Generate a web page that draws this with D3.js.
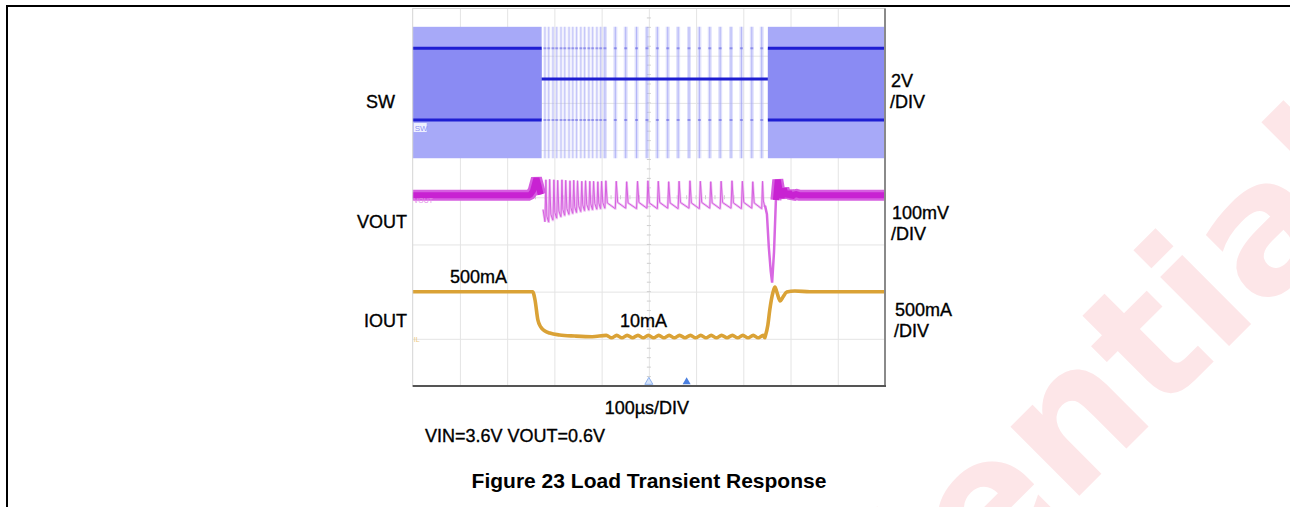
<!DOCTYPE html>
<html><head><meta charset="utf-8">
<script src="https://cdn.jsdelivr.net/npm/d3@7"></script>
<style>
html,body{margin:0;padding:0;background:#fff;}
svg{display:block;}
text{font-family:"Liberation Sans",Arial,Helvetica,sans-serif;}
</style></head><body>
<svg id="c" width="1290" height="507"></svg>
<script>
// ---------------- data ----------------
const timeDomain = [-500, 500];          // µs (10 div x 100 µs)
const divDomain = [-4, 4];               // 8 vertical divisions
const channelNames = ["SW", "VOUT", "IOUT"];
const channelScaleText = [["2V", "/DIV"], ["100mV", "/DIV"], ["500mA", "/DIV"]];
const channelUnitsPerDiv = [2, 100, 500]; // V, mV, mA
const channelZeroDiv = [1.467, 0.04, -2.983];
const levelLabels = ["500mA", "10mA"];
const levelLabelT = [-421, -61];
const timebaseLabel = "100µs/DIV";
const conditionLabel = "VIN=3.6V VOUT=0.6V";
const figureTitle = "Figure 23 Load Transient Response";
const watermarkText = "Confidential";

// SW node (V)
const swHeavySpans = [[-500, -227], [252, 500]];
const swEnvelopeV = [-1.28, 4.29];
const swHeavyLevelsV = [0.34, 3.38];
const swLightLevelV = 2.08;

// burst pulses during the 10 mA load (µs) and VOUT ripple (mV)
const burstT = [-220, -212, -203, -195, -186, -178, -169, -161, -153, -144, -136, -127, -119, -110, -102,
  -93, -71, -49, -26, -4, 18, 40, 62, 85, 107, 129, 151, 174, 196, 218, 239];
const burstPeakMv = [33, 34, 33, 32, 33, 32, 31, 32, 31, 30, 31, 30, 30, 29, 30,
  31, 30, 29, 30, 31, 30, 29, 30, 31, 30, 29, 30, 31, 30, 29, 30];
const burstTroughMv = [-56, -52, -48, -45, -42, -40, -38, -36, -34, -32, -31, -30, -29, -28, -27,
  -28, -27, -28, -27, -28, -27, -28, -27, -28, -27, -28, -27, -28, -27, -28, -24];

// VOUT around the load steps (mV)
const voutDownT = [-500, -252, -245, -238, -234, -229, -224];
const voutDownMv = [0, 0, 10, 36, 22, 2, -30];
const voutUpT = [246, 250, 254, 258, 261, 265, 269, 273, 277, 281, 286, 291, 297, 303, 310, 320, 500];
const voutUpMv = [-22, -40, -110, -160, -185, -120, -10, 33, 10, -5, 14, -2, 7, -3, 3, 0, 0];

// IOUT (mA)
const ioutDownT = [-500, -246, -241, -235, -229, -220, -210, -189, -157, -120];
const ioutDownMa = [490, 490, 403, 191, 117, 74, 53, 32, 21, 14];
const ioutRippleMa = [28, 2];
const ioutUpT = [246, 252, 256, 263, 267, 271, 278, 284, 292, 309, 341, 500];
const ioutUpMa = [10, 138, 297, 487, 540, 487, 392, 434, 487, 498, 490, 490];

// ---------------- layout ----------------
const svg = d3.select("#c");
const P = {l: 412.7, r: 885, t: 8.5, b: 386};
const x = d3.scaleLinear().domain(timeDomain).range([P.l, P.r]);
const y = d3.scaleLinear().domain(divDomain).range([P.b, P.t]);
const yc = (ch, v) => y(channelZeroDiv[ch] + v / channelUnitsPerDiv[ch]);

// watermark
const wm = svg.append("g").attr("transform", "translate(1068.7,506.3) rotate(-45)");
const wmt = wm.append("text").text(watermarkText)
  .style("font-family", "'DejaVu Sans', Verdana, sans-serif")
  .attr("font-size", 178).attr("font-weight", "bold").attr("fill", "#fde6e8");
const off = wmt.node().getStartPositionOfChar(7).x;
wmt.attr("x", -off);

// outer page frame
svg.append("line").attr("x1", 6).attr("x2", 1290).attr("y1", 6).attr("y2", 6).attr("stroke", "#000").attr("stroke-width", 2);
svg.append("line").attr("x1", 7).attr("x2", 7).attr("y1", 5).attr("y2", 507).attr("stroke", "#000").attr("stroke-width", 2);

// scope screen
const scr = svg.append("g");
scr.append("rect").attr("x", P.l).attr("y", P.t).attr("width", P.r - P.l).attr("height", P.b - P.t).attr("fill", "#fff");
const gx = scr.append("g").attr("transform", `translate(0,${P.b})`)
  .call(d3.axisBottom(x).tickValues(d3.range(-400, 500, 100)).tickSize(-(P.b - P.t)).tickFormat(""));
const gy = scr.append("g").attr("transform", `translate(${P.l},0)`)
  .call(d3.axisLeft(y).tickValues(d3.range(-3, 4, 1)).tickSize(-(P.r - P.l)).tickFormat(""));
[gx, gy].forEach(g => { g.select(".domain").remove(); g.selectAll("line").attr("stroke", "#e4e4e4").attr("stroke-width", 1); });
// minor ticks on centre lines
const minorX = d3.range(-500, 500.1, 20), minorY = d3.range(-4, 4.01, 0.2);
scr.selectAll(".mx").data(minorX).join("line").attr("x1", d => x(d)).attr("x2", d => x(d))
  .attr("y1", y(0) - 2).attr("y2", y(0) + 2).attr("stroke", "#cfcfcf");
scr.selectAll(".my").data(minorY).join("line").attr("y1", d => y(d)).attr("y2", d => y(d))
  .attr("x1", x(0) - 2).attr("x2", x(0) + 2).attr("stroke", "#cfcfcf");

const line = d3.line().x(d => x(d[0])).y(d => d[1]);

// ---- SW ----
const sw = scr.append("g");
sw.selectAll(".halo").data(burstT).join("line")
  .attr("x1", d => x(d)).attr("x2", d => x(d))
  .attr("y1", yc(0, swEnvelopeV[1])).attr("y2", yc(0, swEnvelopeV[0]))
  .attr("stroke", "#b4b6f9").attr("stroke-width", (d, i) => i < 15 ? 3 : 4).attr("opacity", (d, i) => i < 15 ? 0.3 : 0.4);
sw.selectAll(".core").data(burstT).join("line")
  .attr("x1", d => x(d)).attr("x2", d => x(d))
  .attr("y1", yc(0, swEnvelopeV[1])).attr("y2", yc(0, swEnvelopeV[0]))
  .attr("stroke", "#9497f5").attr("stroke-width", 1).attr("opacity", (d, i) => i < 15 ? 0.45 : 0.6);
sw.selectAll(".dot").data(burstT.flatMap(t => swHeavyLevelsV.map(v => [t, v]))).join("line")
  .attr("x1", d => x(d[0]) - 1.5).attr("x2", d => x(d[0]) + 1.5)
  .attr("y1", d => yc(0, d[1])).attr("y2", d => yc(0, d[1]))
  .attr("stroke", "#3a3ad8").attr("stroke-width", 2).attr("opacity", 0.4);
swHeavySpans.forEach(s => {
  sw.append("rect").attr("x", x(s[0])).attr("width", x(s[1]) - x(s[0]))
    .attr("y", yc(0, swEnvelopeV[1])).attr("height", yc(0, swEnvelopeV[0]) - yc(0, swEnvelopeV[1]))
    .attr("fill", "#a7a9f8");
  sw.append("rect").attr("x", x(s[0])).attr("width", x(s[1]) - x(s[0]))
    .attr("y", yc(0, swHeavyLevelsV[1])).attr("height", yc(0, swHeavyLevelsV[0]) - yc(0, swHeavyLevelsV[1]))
    .attr("fill", "#8a8bf3");
  swHeavyLevelsV.forEach(v => {
    sw.append("path").attr("d", line([[s[0], yc(0, v)], [s[1], yc(0, v)]]))
      .attr("stroke", "#1e1ed2").attr("stroke-width", 3).attr("fill", "none");
  });
});
sw.append("path").attr("d", line([[swHeavySpans[0][1], yc(0, swLightLevelV)], [swHeavySpans[1][0], yc(0, swLightLevelV)]]))
  .attr("stroke", "#1e1ed2").attr("stroke-width", 3).attr("fill", "none");

// ---- VOUT ----
const vAll = [];
voutDownT.forEach((t, k) => vAll.push([t, voutDownMv[k]]));
burstT.forEach((t, i) => {
  const next = i + 1 < burstT.length ? burstT[i + 1] : voutUpT[0];
  const gap = next - t;
  const prevTr = i > 0 ? burstTroughMv[i - 1] : burstTroughMv[0];
  vAll.push([t, prevTr]);
  vAll.push([t + Math.min(2, gap * 0.25), burstPeakMv[i]]);
  vAll.push([t + Math.min(5, gap * 0.5), burstTroughMv[i] + 12]);
  vAll.push([next - 0.5, burstTroughMv[i]]);
});
voutUpT.forEach((t, k) => vAll.push([t, voutUpMv[k]]));
const vPts = vAll.map(d => [d[0], yc(1, d[1])]);
const vg = scr.append("g");
const lightSeg = vPts.filter(d => d[0] > -229 && d[0] < 250);
vg.append("path").attr("d", line(lightSeg))
  .attr("fill", "none").attr("stroke", "#e8a8ee").attr("stroke-width", 2.5).attr("opacity", 0.7);
vg.append("path").attr("d", line(lightSeg))
  .attr("fill", "none").attr("stroke", "#d660e0").attr("stroke-width", 1);
vg.append("path").attr("d", line(vPts.filter(d => d[0] >= 244 && d[0] <= 273)))
  .attr("fill", "none").attr("stroke", "#d868e2").attr("stroke-width", 2.5);
[vPts.filter(d => d[0] <= -229), vPts.filter(d => d[0] >= 269)].forEach(seg => {
  vg.append("path").attr("d", line(seg)).attr("fill", "none").attr("stroke", "#d65ee0").attr("stroke-width", 11)
    .attr("stroke-linejoin", "bevel");
  vg.append("path").attr("d", line(seg)).attr("fill", "none").attr("stroke", "#c822d2").attr("stroke-width", 6)
    .attr("stroke-linejoin", "bevel");
});

// ---- IOUT ----
const iAll = [];
ioutDownT.forEach((t, k) => iAll.push([t, ioutDownMa[k]]));
burstT.filter(t => t > -100).forEach((t, i, arr) => {
  const next = i + 1 < arr.length ? arr[i + 1] : ioutUpT[0];
  iAll.push([t + 3, ioutRippleMa[0]]);
  iAll.push([(t + next) / 2 + 3, ioutRippleMa[1]]);
});
ioutUpT.forEach((t, k) => iAll.push([t, ioutUpMa[k]]));
scr.append("path").attr("d", d3.line().x(d => x(d[0])).y(d => yc(2, d[1])).curve(d3.curveMonotoneX)(iAll))
  .attr("fill", "none").attr("stroke", "#daa236").attr("stroke-width", 3.6);

// channel markers
const mk = scr.append("g").attr("font-size", 8);
mk.append("rect").attr("x", P.l + 1).attr("y", yc(0, 0) - 5).attr("width", 13).attr("height", 9).attr("fill", "#eef0ff");
mk.append("text").attr("x", P.l + 2).attr("y", yc(0, 0) + 2.5).attr("fill", "#8f92f4").text("SW");
mk.append("text").attr("x", P.l + 1).attr("y", yc(1, 0) + 8).attr("fill", "#e28ae8").attr("font-size", 7).text("VOUT");
mk.append("text").attr("x", P.l + 1).attr("y", yc(2, 0) + 3.5).attr("fill", "#eccb85").attr("font-size", 7).text("IL");

// trigger markers
const tri = d3.symbol().type(d3.symbolTriangle).size(28);
scr.append("path").attr("d", tri()).attr("transform", `translate(${x(0)},${P.b - 4})`).attr("fill", "#d6e4fb").attr("stroke", "#8fb2ee");
scr.append("path").attr("d", tri()).attr("transform", `translate(${x(80)},${P.b - 4})`).attr("fill", "#4a7fe0");

// frame
scr.append("rect").attr("x", P.l).attr("y", P.t).attr("width", P.r - P.l).attr("height", P.b - P.t)
  .attr("fill", "none").attr("stroke", "#d4d4d4");
scr.append("line").attr("x1", P.r).attr("x2", P.r).attr("y1", P.t).attr("y2", P.b + 1).attr("stroke", "#8a8a8a").attr("stroke-width", 2);
scr.append("line").attr("x1", P.l).attr("x2", P.r + 1).attr("y1", P.b).attr("y2", P.b).attr("stroke", "#555").attr("stroke-width", 2);

// ---- text ----
const T = svg.append("g").attr("font-size", 18).attr("fill", "#000").attr("stroke", "#000").attr("stroke-width", 0.35);
const chLabelPos = [[366, 108], [357, 228], [364, 326.5]];
channelNames.forEach((n, i) => T.append("text").attr("x", chLabelPos[i][0]).attr("y", chLabelPos[i][1]).text(n));
const scalePos = [[891, 86.5, 108], [892, 218.5, 239.5], [895, 316, 337]];
channelScaleText.forEach((s, i) => {
  T.append("text").attr("x", scalePos[i][0]).attr("y", scalePos[i][1]).text(s[0]);
  T.append("text").attr("x", scalePos[i][0] - 1).attr("y", scalePos[i][2]).text(s[1]);
});
T.append("text").attr("x", x(levelLabelT[0])).attr("y", yc(2, 490) - 8.5).text(levelLabels[0]);
T.append("text").attr("x", x(levelLabelT[1])).attr("y", yc(2, 14) - 10).text(levelLabels[1]);
T.append("text").attr("x", x(0) - 2).attr("y", 414).attr("text-anchor", "middle").text(timebaseLabel);
T.append("text").attr("x", 425).attr("y", 442).text(conditionLabel);
T.append("text").attr("x", 649).attr("y", 488).attr("text-anchor", "middle").attr("font-weight", "bold")
  .attr("font-size", 21).attr("stroke-width", 0).text(figureTitle);
</script>
</body></html>
